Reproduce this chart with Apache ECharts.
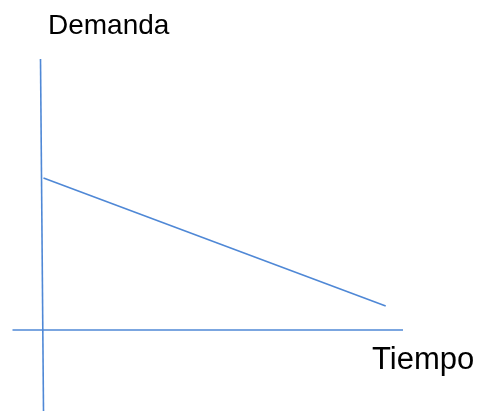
<!DOCTYPE html>
<html>
<head>
<meta charset="utf-8">
<script src="https://cdn.jsdelivr.net/npm/echarts@6/dist/echarts.min.js"></script>
<style>
html,body{margin:0;padding:0;background:#fff;}
#chart{width:480px;height:412px;}
</style>
</head>
<body>
<div id="chart"></div>
<script>
// Axis titles
var yTitle = "Demanda";
var xTitle = "Tiempo";
// Demand line (tiempo, demanda)
var demandLine = [[0.5, 152], [342.7, 24]];
// Drawn axes (as lines in data space)
var horizontalAxisLine = [[-30.5, 0], [360, 0]];
var verticalAxisLine = [[-2.5, 271], [0.5, -81]];
// Data range visible
var xRange = [-43, 437];
var yRange = [-82, 330];

var lineColor = '#4f88d6';
var chart = echarts.init(document.getElementById('chart'), null, {renderer: 'canvas'});
function lineSeries(data) {
  return {
    type: 'line', data: data, showSymbol: false, symbol: 'none', silent: true,
    lineStyle: {color: lineColor, width: 1.6}, animation: false
  };
}
chart.setOption({
  animation: false,
  grid: {left: 0, right: 0, top: 0, bottom: 0, containLabel: false},
  xAxis: {type: 'value', min: xRange[0], max: xRange[1], show: false},
  yAxis: {type: 'value', min: yRange[0], max: yRange[1], show: false},
  series: [lineSeries(horizontalAxisLine), lineSeries(verticalAxisLine), lineSeries(demandLine)],
  graphic: [
    {type: 'text', left: 48, top: 12, style: {text: yTitle, font: '28px "Liberation Sans", Arial, sans-serif', fill: '#000'}},
    {type: 'text', left: 372, top: 345, style: {text: xTitle, font: '31px "Liberation Sans", Arial, sans-serif', fill: '#000'}}
  ]
});
</script>
</body>
</html>
